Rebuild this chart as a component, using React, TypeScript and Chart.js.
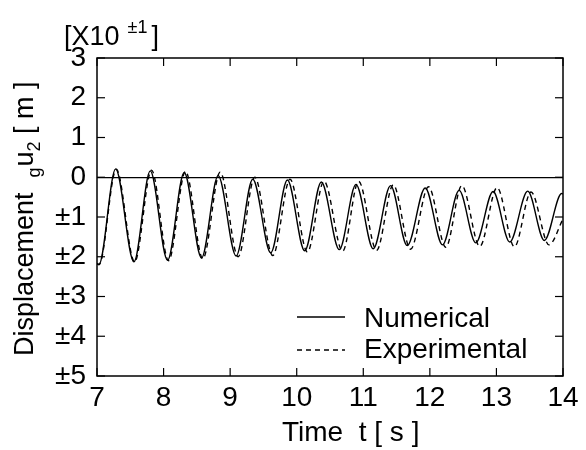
import React, { useEffect, useRef } from 'react';
import { Chart, registerables } from 'chart.js';

Chart.register(...registerables);

// Numerical response: times [s] and displacement [x10^-1 m] at start/extremes
const numericalTimes = [7.0, 7.03, 7.28, 7.555, 7.8, 8.06, 8.31, 8.57, 8.82, 9.09, 9.34, 9.61, 9.86, 10.12, 10.37, 10.64, 10.89, 11.15, 11.41, 11.66, 11.93, 12.19, 12.44, 12.69, 12.95, 13.2, 13.47, 13.72, 13.98, 14.0];
const numericalValues = [-2.17, -2.19, 0.21, -2.13, 0.16, -2.09, 0.12, -2.03, 0.04, -1.98, -0.05, -1.9, -0.07, -1.85, -0.12, -1.82, -0.18, -1.8, -0.21, -1.72, -0.27, -1.7, -0.33, -1.65, -0.36, -1.63, -0.35, -1.59, -0.41, -0.42];

// Experimental response
const experimentalTimes = [7.0, 7.03, 7.29, 7.565, 7.82, 8.075, 8.33, 8.59, 8.85, 9.12, 9.37, 9.64, 9.9, 10.16, 10.41, 10.69, 10.93, 11.2, 11.45, 11.71, 11.98, 12.24, 12.48, 12.75, 13.01, 13.27, 13.52, 13.79, 14.0];
const experimentalValues = [-2.18, -2.2, 0.2, -2.13, 0.18, -2.1, 0.15, -2.05, 0.13, -2.0, 0.0, -1.97, -0.05, -1.88, -0.1, -1.86, -0.1, -1.84, -0.19, -1.81, -0.24, -1.76, -0.21, -1.74, -0.26, -1.75, -0.37, -1.7, -1.05];

const xTickValues = [7, 8, 9, 10, 11, 12, 13, 14];
const yTickValues = [-5, -4, -3, -2, -1, 0, 1, 2, 3];
const yTickLabels = ['±5', '±4', '±3', '±2', '±1', '0', '1', '2', '3'];

const FONT = "'Liberation Sans', Arial, Helvetica, sans-serif";

const framePlugin = {
  id: 'frameTicks',
  afterDatasetsDraw(chart: any) {
    const { ctx, chartArea: a, scales } = chart;
    ctx.save();
    ctx.strokeStyle = '#000';
    ctx.lineWidth = 1.5;
    ctx.strokeRect(a.left, a.top, a.right - a.left, a.bottom - a.top);
    ctx.lineWidth = 1.2;
    const L = 8;
    const seg = (x1: number, y1: number, x2: number, y2: number) => {
      ctx.beginPath();
      ctx.moveTo(x1, y1);
      ctx.lineTo(x2, y2);
      ctx.stroke();
    };
    scales.x.ticks.forEach((t: any) => {
      const px = scales.x.getPixelForValue(t.value);
      seg(px, a.bottom, px, a.bottom - L);
      seg(px, a.top, px, a.top + L);
    });
    scales.y.ticks.forEach((t: any) => {
      const py = scales.y.getPixelForValue(t.value);
      seg(a.left, py, a.left + L, py);
      seg(a.right, py, a.right - L, py);
    });
    ctx.restore();
  },
};

const textPlugin = {
  id: 'texts',
  afterDraw(chart: any) {
    const { ctx } = chart;
    ctx.save();
    ctx.fillStyle = '#000';
    ctx.textBaseline = 'alphabetic';
    ctx.textAlign = 'left';

    // Exponent title
    ctx.font = `27px ${FONT}`;
    ctx.fillText('[X10', 64, 45);
    const w = ctx.measureText('[X10').width;
    ctx.font = `18px ${FONT}`;
    ctx.fillText('±1', 64 + w + 8, 33);
    const w2 = ctx.measureText('±1').width;
    ctx.font = `27px ${FONT}`;
    ctx.fillText(']', 64 + w + 8 + w2 + 4, 45);

    // X axis title
    ctx.font = `28px ${FONT}`;
    ctx.fillText('Time  t [ s ]', 282, 441);

    // Y axis title (rotated)
    ctx.save();
    ctx.translate(33, 356);
    ctx.rotate(-Math.PI / 2);
    let x = 0;
    ctx.font = `27px ${FONT}`;
    ctx.fillText('Displacement  ', x, 0);
    x += ctx.measureText('Displacement  ').width;
    ctx.font = `18px ${FONT}`;
    ctx.fillText('g', x, 7);
    x += ctx.measureText('g').width + 1;
    ctx.font = `27px ${FONT}`;
    ctx.fillText('u', x, 0);
    x += ctx.measureText('u').width;
    ctx.font = `18px ${FONT}`;
    ctx.fillText('2', x, 7);
    x += ctx.measureText('2').width;
    ctx.font = `27px ${FONT}`;
    ctx.fillText(' [ m ]', x, 0);
    ctx.restore();

    // Legend
    ctx.strokeStyle = '#000';
    ctx.lineWidth = 1.3;
    ctx.beginPath();
    ctx.moveTo(297, 317);
    ctx.lineTo(345, 317);
    ctx.stroke();
    ctx.setLineDash([5, 4]);
    ctx.beginPath();
    ctx.moveTo(297, 350);
    ctx.lineTo(345, 350);
    ctx.stroke();
    ctx.setLineDash([]);
    ctx.font = `28px ${FONT}`;
    ctx.fillText('Numerical', 364, 327);
    ctx.fillText('Experimental', 364, 358);

    ctx.restore();
  },
};

export default function App() {
  const canvasRef = useRef<HTMLCanvasElement | null>(null);

  useEffect(() => {
    document.body.style.margin = '0';
    const canvas = canvasRef.current;
    if (!canvas) return;
    const numData = numericalTimes.map((t, i) => ({ x: t, y: numericalValues[i] }));
    const expData = experimentalTimes.map((t, i) => ({ x: t, y: experimentalValues[i] }));

    const chart = new Chart(canvas, {
      type: 'line',
      data: {
        datasets: [
          {
            label: 'Numerical',
            data: numData,
            borderColor: '#000',
            borderWidth: 1.4,
            pointRadius: 0,
            fill: false,
            cubicInterpolationMode: 'monotone',
          },
          {
            label: 'Experimental',
            data: expData,
            borderColor: '#000',
            borderWidth: 1.4,
            borderDash: [5, 4],
            pointRadius: 0,
            fill: false,
            cubicInterpolationMode: 'monotone',
          },
        ],
      },
      options: {
        animation: false,
        responsive: false,
        devicePixelRatio: 1,
        layout: { padding: { top: 58, right: 23, left: 0, bottom: 0 } },
        plugins: {
          legend: { display: false },
          tooltip: { enabled: false },
          title: { display: false },
        },
        scales: {
          x: {
            type: 'linear',
            min: 7,
            max: 14,
            afterBuildTicks: (scale: any) => {
              scale.ticks = xTickValues.map((v) => ({ value: v }));
            },
            afterFit: (scale: any) => {
              scale.height = 74;
            },
            grid: { display: false, drawTicks: false },
            border: { display: false },
            ticks: {
              color: '#000',
              font: { family: FONT, size: 28 },
              padding: 5,
              maxRotation: 0,
              autoSkip: false,
              callback: (v: any) => String(v),
            },
          },
          y: {
            type: 'linear',
            min: -5,
            max: 3,
            afterBuildTicks: (scale: any) => {
              scale.ticks = yTickValues.map((v) => ({ value: v }));
            },
            afterFit: (scale: any) => {
              scale.width = 97;
            },
            grid: {
              drawTicks: false,
              color: (c: any) => (c.tick && c.tick.value === 0 ? '#000' : 'rgba(0,0,0,0)'),
              lineWidth: 1.2,
            },
            border: { display: false },
            ticks: {
              color: '#000',
              font: { family: FONT, size: 28 },
              padding: 11,
              autoSkip: false,
              callback: (v: any) => {
                const i = yTickValues.indexOf(Number(v));
                return i >= 0 ? yTickLabels[i] : '';
              },
            },
          },
        },
      },
      plugins: [framePlugin, textPlugin],
    } as any);

    return () => chart.destroy();
  }, []);

  return (
    <div style={{ width: 586, height: 450, background: '#fff' }}>
      <canvas ref={canvasRef} width={586} height={450} />
    </div>
  );
}
